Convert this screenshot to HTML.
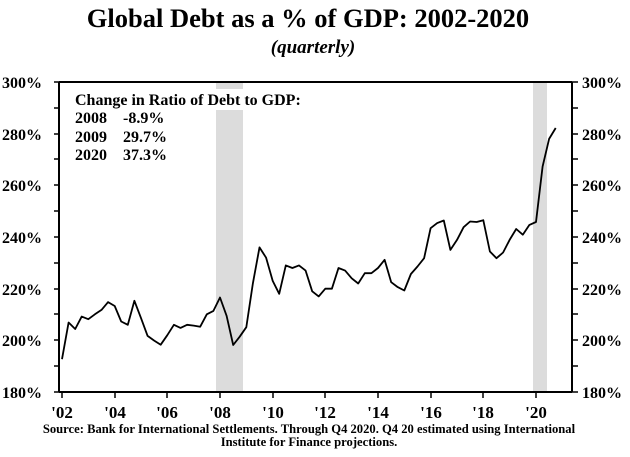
<!DOCTYPE html>
<html><head><style>
body{margin:0;background:#fff;}
svg text{font-family:"Liberation Serif",serif;font-weight:bold;fill:#000;}
</style></head><body>
<svg width="630" height="452" viewBox="0 0 630 452" xmlns="http://www.w3.org/2000/svg">
<text x="308" y="27" font-size="26.5" text-anchor="middle">Global Debt as a % of GDP: 2002-2020</text>
<text x="313" y="53" font-size="19" font-style="italic" text-anchor="middle">(quarterly)</text>
<rect x="216" y="82" width="27" height="310" fill="#dcdcdc"/>
<rect x="533" y="82" width="14" height="310" fill="#dcdcdc"/>
<rect x="70" y="89" width="175" height="21" fill="#fff"/>
<g id="ax" stroke="#000" stroke-width="2" fill="none">
<line x1="59" y1="82" x2="572" y2="82"/>
<line x1="59" y1="82" x2="59" y2="392"/>
<line x1="572" y1="82" x2="572" y2="392"/>
<line x1="59" y1="392" x2="572" y2="392"/>
</g>
<g stroke="#000" stroke-width="1.5">
<line x1="54" y1="82" x2="59" y2="82"/><line x1="54" y1="108" x2="59" y2="108"/><line x1="54" y1="134" x2="59" y2="134"/><line x1="54" y1="159" x2="59" y2="159"/><line x1="54" y1="185" x2="59" y2="185"/><line x1="54" y1="211" x2="59" y2="211"/><line x1="54" y1="237" x2="59" y2="237"/><line x1="54" y1="263" x2="59" y2="263"/><line x1="54" y1="289" x2="59" y2="289"/><line x1="54" y1="314" x2="59" y2="314"/><line x1="54" y1="340" x2="59" y2="340"/><line x1="54" y1="366" x2="59" y2="366"/><line x1="54" y1="392" x2="59" y2="392"/>
<line x1="572" y1="82" x2="578" y2="82"/><line x1="572" y1="108" x2="578" y2="108"/><line x1="572" y1="134" x2="578" y2="134"/><line x1="572" y1="159" x2="578" y2="159"/><line x1="572" y1="185" x2="578" y2="185"/><line x1="572" y1="211" x2="578" y2="211"/><line x1="572" y1="237" x2="578" y2="237"/><line x1="572" y1="263" x2="578" y2="263"/><line x1="572" y1="289" x2="578" y2="289"/><line x1="572" y1="314" x2="578" y2="314"/><line x1="572" y1="340" x2="578" y2="340"/><line x1="572" y1="366" x2="578" y2="366"/><line x1="572" y1="392" x2="578" y2="392"/>
<line x1="62" y1="392" x2="62" y2="398"/><line x1="115" y1="392" x2="115" y2="398"/><line x1="167" y1="392" x2="167" y2="398"/><line x1="220" y1="392" x2="220" y2="398"/><line x1="273" y1="392" x2="273" y2="398"/><line x1="325" y1="392" x2="325" y2="398"/><line x1="378" y1="392" x2="378" y2="398"/><line x1="431" y1="392" x2="431" y2="398"/><line x1="483" y1="392" x2="483" y2="398"/><line x1="536" y1="392" x2="536" y2="398"/>
</g>
<g font-size="16" text-anchor="end">
<text x="42" y="88">300%</text><text x="42" y="140">280%</text><text x="42" y="191">260%</text><text x="42" y="243">240%</text><text x="42" y="295">220%</text><text x="42" y="346">200%</text><text x="42" y="398">180%</text>
</g>
<g font-size="16" text-anchor="start">
<text x="582" y="88">300%</text><text x="582" y="140">280%</text><text x="582" y="191">260%</text><text x="582" y="243">240%</text><text x="582" y="295">220%</text><text x="582" y="346">200%</text><text x="582" y="398">180%</text>
</g>
<g font-size="17" text-anchor="middle">
<text x="62" y="418">'02</text><text x="115" y="418">'04</text><text x="167" y="418">'06</text><text x="220" y="418">'08</text><text x="273" y="418">'10</text><text x="325" y="418">'12</text><text x="378" y="418">'14</text><text x="431" y="418">'16</text><text x="483" y="418">'18</text><text x="536" y="418">'20</text>
</g>
<g font-size="16">
<text x="75" y="105">Change in Ratio of Debt to GDP:</text>
<text x="75" y="123">2008</text><text x="123" y="123">-8.9%</text>
<text x="75" y="142">2009</text><text x="123" y="142">29.7%</text>
<text x="75" y="160">2020</text><text x="123" y="160">37.3%</text>
</g>
<g font-size="12.6" text-anchor="middle">
<text x="309" y="433">Source:  Bank for International Settlements. Through Q4 2020. Q4 20 estimated using International</text>
<text x="309" y="446">Institute for Finance projections.</text>
</g>
<polyline id="ln" fill="none" stroke="#000" stroke-width="1.8" stroke-linejoin="round" points=""/>
<script>
var v=[192.7,206.9,204.4,209.2,208.2,210.1,211.8,214.8,213.3,207.3,206.0,215.3,208.6,201.7,199.9,198.3,202.0,206.0,204.8,206.0,205.7,205.3,210.1,211.4,216.6,209.5,198.2,201.4,205.1,222.1,236,232,223,218,229,228,229,227,219,217,220,220,228,227,224,222,226,226,228,231.2,222.5,220.6,219.3,225.7,228.6,231.8,243.4,245.4,246.4,235.0,238.9,243.8,246.0,245.8,246.5,234.4,231.8,234.0,238.9,243.1,240.9,244.7,245.8,267.3,278.0,282.2];
var p=v.map(function(a,i){return (62+i*6.583).toFixed(1)+","+(392-(a-180)*2.583).toFixed(1);}).join(" ");
document.getElementById("ln").setAttribute("points",p);
</script>
</svg>
</body></html>
